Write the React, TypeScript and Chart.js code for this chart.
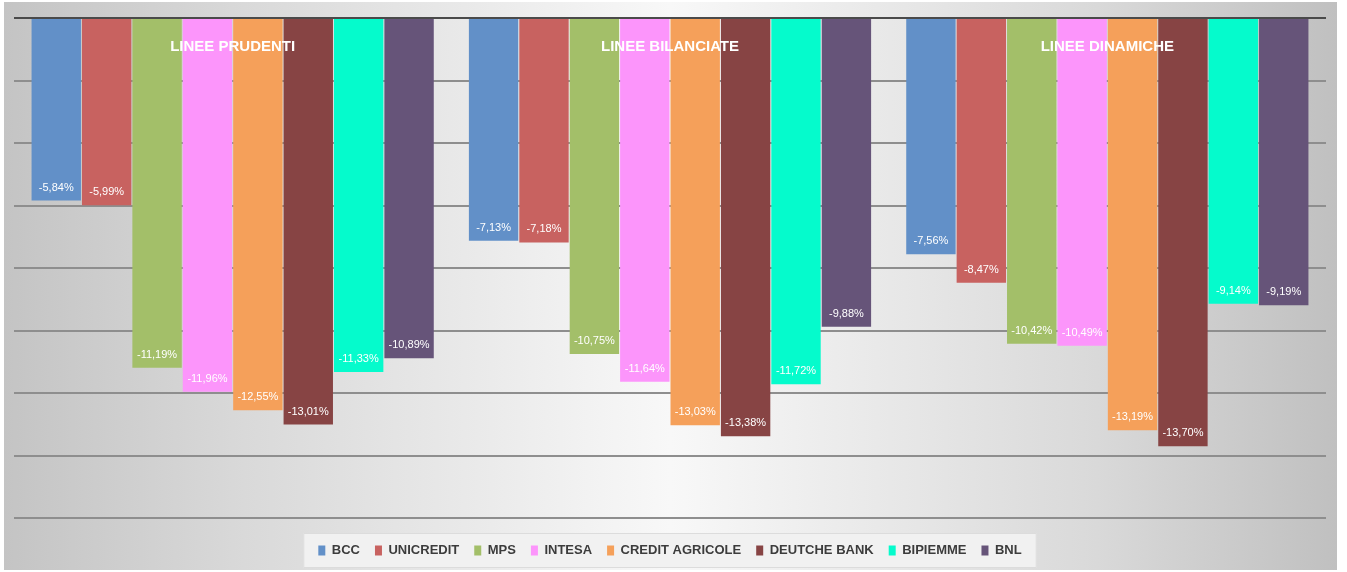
import React, { useEffect, useRef } from "react";
import { Chart, registerables } from "chart.js";

Chart.register(...registerables);

const categories = ["LINEE PRUDENTI", "LINEE BILANCIATE", "LINEE DINAMICHE"];
const seriesNames = ["BCC", "UNICREDIT", "MPS", "INTESA", "CREDIT AGRICOLE", "DEUTCHE BANK", "BIPIEMME", "BNL"];
const bcc = [-5.84, -7.13, -7.56];
const unicredit = [-5.99, -7.18, -8.47];
const mps = [-11.19, -10.75, -10.42];
const intesa = [-11.96, -11.64, -10.49];
const creditAgricole = [-12.55, -13.03, -13.19];
const deutcheBank = [-13.01, -13.38, -13.7];
const bipiemme = [-11.33, -11.72, -9.14];
const bnl = [-10.89, -9.88, -9.19];
const seriesValues = [bcc, unicredit, mps, intesa, creditAgricole, deutcheBank, bipiemme, bnl];
const seriesColors = ["#6290c8", "#c86260", "#a3bf69", "#fc95fb", "#f5a05a", "#874444", "#05fbcc", "#665479"];
const yMin = -16;
const yMax = 0;
const yStep = 2;

const FONT = '"Liberation Sans Narrow", "Liberation Sans", Arial, sans-serif';

const fmt = (v: number) => v.toFixed(2).replace(".", ",") + "%";

const bgPlugin = {
  id: "bgPlugin",
  beforeDraw(chart: any) {
    const { ctx, width, height } = chart;
    ctx.save();
    ctx.fillStyle = "#ffffff";
    ctx.fillRect(0, 0, width, height);
    const x0 = 4, y0 = 2, x1 = 1337, y1 = 570;
    const g = ctx.createLinearGradient(x0, 0, x1, 0);
    g.addColorStop(0, "#c4c4c4");
    g.addColorStop(0.18, "#d9d9d9");
    g.addColorStop(0.5, "#f8f8f8");
    g.addColorStop(0.82, "#d9d9d9");
    g.addColorStop(1, "#c0c0c0");
    ctx.fillStyle = g;
    ctx.fillRect(x0, y0, x1 - x0, y1 - y0);
    const lg = chart.legend;
    if (lg && lg.legendHitBoxes && lg.legendHitBoxes.length) {
      const hb = lg.legendHitBoxes;
      const left = Math.min(...hb.map((h: any) => h.left)) - 15;
      const right = Math.max(...hb.map((h: any) => h.left + h.width)) + 15;
      const top = hb[0].top - 11;
      const bottom = hb[0].top + hb[0].height + 11;
      ctx.fillStyle = "#f1f1f1";
      ctx.fillRect(left, top, right - left, bottom - top);
      ctx.strokeStyle = "#dcdcdc";
      ctx.lineWidth = 1;
      ctx.strokeRect(left + 0.5, top + 0.5, right - left - 1, bottom - top - 1);
    }
    ctx.restore();
  },
};

const labelPlugin = {
  id: "labelPlugin",
  afterDatasetsDraw(chart: any) {
    const { ctx } = chart;
    ctx.save();
    ctx.fillStyle = "#ffffff";
    ctx.textAlign = "center";
    ctx.textBaseline = "middle";
    ctx.font = "11px " + FONT;
    chart.data.datasets.forEach((ds: any, i: number) => {
      const meta = chart.getDatasetMeta(i);
      meta.data.forEach((el: any, j: number) => {
        ctx.fillText(fmt(ds.data[j]), el.x, el.y - 13);
      });
    });
    const xs = chart.scales.x;
    ctx.font = "bold 15px " + FONT;
    categories.forEach((c, i) => {
      ctx.fillText(c, xs.getPixelForValue(i), chart.chartArea.top + 29);
    });
    ctx.restore();
  },
};

export default function App() {
  const ref = useRef<HTMLCanvasElement | null>(null);
  useEffect(() => {
    if (!ref.current) return;
    const chart = new Chart(ref.current, {
      type: "bar",
      data: {
        labels: categories,
        datasets: seriesNames.map((name, i) => ({
          label: name,
          data: seriesValues[i],
          backgroundColor: seriesColors[i],
          borderWidth: 0,
          categoryPercentage: 0.922,
          barPercentage: 0.98,
        })),
      },
      options: {
        responsive: false,
        animation: false,
        layout: { padding: { left: 14, right: 21, top: 18, bottom: 5 } },
        plugins: {
          tooltip: { enabled: false },
          legend: {
            display: true,
            position: "bottom",
            labels: {
              boxWidth: 7,
              boxHeight: 10,
              padding: 15,
              color: "#3c3c3c",
              font: { family: FONT, size: 13, weight: "bold" },
            },
          },
        },
        scales: {
          x: {
            display: true,
            grid: { display: false },
            border: { display: false },
            ticks: { display: false },
            afterFit: (s: any) => {
              s.height = 11;
            },
          },
          y: {
            min: yMin,
            max: yMax,
            ticks: { display: false, stepSize: yStep },
            border: { display: false },
            grid: {
              drawTicks: false,
              lineWidth: 2,
              color: (c: any) => (c.tick && c.tick.value === 0 ? "#4a4a4a" : "#8e8e8e"),
            },
          },
        },
      },
      plugins: [bgPlugin, labelPlugin],
    } as any);
    return () => chart.destroy();
  }, []);
  return (
    <div style={{ position: "fixed", left: 0, top: 0, width: 1347, height: 572 }}>
      <canvas ref={ref} width={1347} height={572} style={{ display: "block" }} />
    </div>
  );
}
